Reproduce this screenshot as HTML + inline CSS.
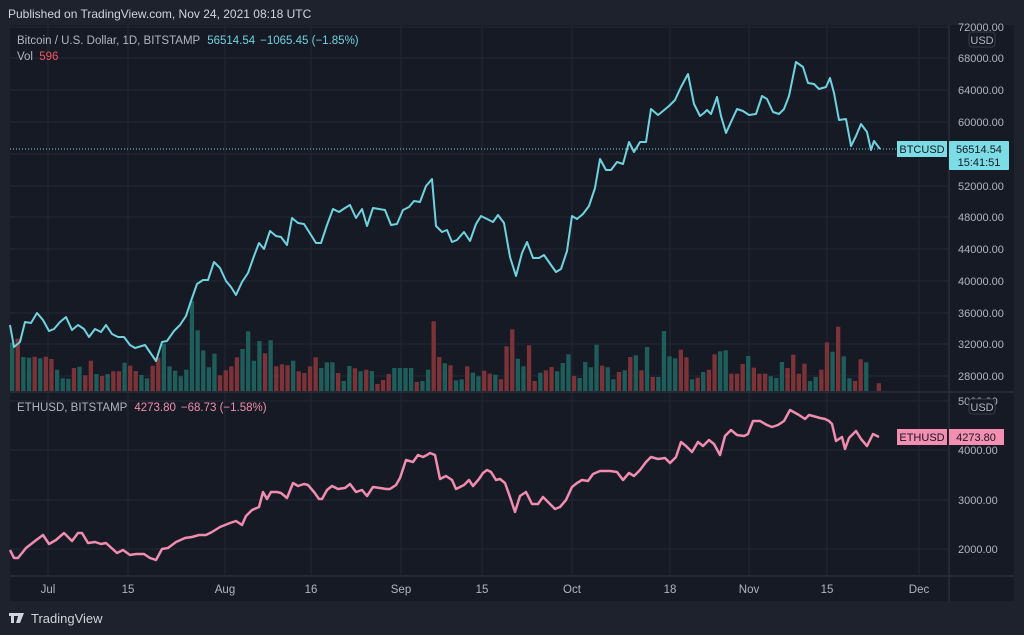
<!DOCTYPE html>
<html><head><meta charset="utf-8"><style>
html,body{margin:0;padding:0;background:#1e222d;}
svg{display:block;font-family:"Liberation Sans",sans-serif;}
.g{fill:#1f5d5b}.r{fill:#7c3338}
</style></head><body>
<svg width="1024" height="635" viewBox="0 0 1024 635" xmlns="http://www.w3.org/2000/svg">
<rect width="1024" height="635" fill="#1e222d"/>
<rect x="10" y="25" width="1004" height="576" fill="#161a25"/>
<g stroke="#242835" stroke-width="1">
<line x1="10" x2="949" y1="27" y2="27"/><line x1="10" x2="949" y1="58" y2="58"/><line x1="10" x2="949" y1="90" y2="90"/><line x1="10" x2="949" y1="122" y2="122"/><line x1="10" x2="949" y1="154" y2="154"/><line x1="10" x2="949" y1="186" y2="186"/><line x1="10" x2="949" y1="217" y2="217"/><line x1="10" x2="949" y1="249" y2="249"/><line x1="10" x2="949" y1="281" y2="281"/><line x1="10" x2="949" y1="313" y2="313"/><line x1="10" x2="949" y1="344" y2="344"/><line x1="10" x2="949" y1="376" y2="376"/>
<line x1="10" x2="949" y1="401" y2="401"/><line x1="10" x2="949" y1="450" y2="450"/><line x1="10" x2="949" y1="500" y2="500"/><line x1="10" x2="949" y1="549" y2="549"/>
<line x1="48" x2="48" y1="25" y2="575"/><line x1="128" x2="128" y1="25" y2="575"/><line x1="225" x2="225" y1="25" y2="575"/><line x1="311" x2="311" y1="25" y2="575"/><line x1="401" x2="401" y1="25" y2="575"/><line x1="482" x2="482" y1="25" y2="575"/><line x1="572" x2="572" y1="25" y2="575"/><line x1="670" x2="670" y1="25" y2="575"/><line x1="749" x2="749" y1="25" y2="575"/><line x1="827" x2="827" y1="25" y2="575"/><line x1="919" x2="919" y1="25" y2="575"/>
</g>
<g stroke="#2a2e39" stroke-width="1.5">
<line x1="10" x2="1014" y1="392" y2="392"/>
<line x1="10" x2="1014" y1="576" y2="576"/>
<line x1="949" x2="949" y1="25" y2="601"/>
</g>
<g>
<rect class="g" x="10" y="342.7" width="4.3" height="48.3"/>
<rect class="r" x="15.6" y="338.7" width="4.3" height="52.3"/>
<rect class="g" x="21.2" y="357" width="4.3" height="34"/>
<rect class="g" x="26.9" y="357.7" width="4.3" height="33.3"/>
<rect class="r" x="32.5" y="356.7" width="4.3" height="34.3"/>
<rect class="g" x="38.1" y="358.3" width="4.3" height="32.7"/>
<rect class="r" x="43.7" y="356.7" width="4.3" height="34.3"/>
<rect class="r" x="49.3" y="359" width="4.3" height="32"/>
<rect class="g" x="55.0" y="369.7" width="4.3" height="21.3"/>
<rect class="g" x="60.6" y="378.3" width="4.3" height="12.7"/>
<rect class="g" x="66.2" y="378.7" width="4.3" height="12.3"/>
<rect class="r" x="71.8" y="368" width="4.3" height="23"/>
<rect class="g" x="77.4" y="366.7" width="4.3" height="24.3"/>
<rect class="r" x="83.1" y="375.3" width="4.3" height="15.7"/>
<rect class="r" x="88.7" y="360.7" width="4.3" height="30.3"/>
<rect class="g" x="94.3" y="374" width="4.3" height="17"/>
<rect class="r" x="99.9" y="376" width="4.3" height="15"/>
<rect class="g" x="105.5" y="374" width="4.3" height="17"/>
<rect class="r" x="111.2" y="371.3" width="4.3" height="19.7"/>
<rect class="r" x="116.8" y="371.3" width="4.3" height="19.7"/>
<rect class="g" x="122.4" y="362.7" width="4.3" height="28.3"/>
<rect class="r" x="128.0" y="365.7" width="4.3" height="25.3"/>
<rect class="r" x="133.6" y="371" width="4.3" height="20"/>
<rect class="g" x="139.3" y="375" width="4.3" height="16"/>
<rect class="g" x="144.9" y="378.3" width="4.3" height="12.7"/>
<rect class="r" x="150.5" y="365.7" width="4.3" height="25.3"/>
<rect class="r" x="156.1" y="357.7" width="4.3" height="33.3"/>
<rect class="g" x="161.7" y="343.7" width="4.3" height="47.3"/>
<rect class="g" x="167.4" y="366.3" width="4.3" height="24.7"/>
<rect class="g" x="173.0" y="370.7" width="4.3" height="20.3"/>
<rect class="g" x="178.6" y="376.3" width="4.3" height="14.7"/>
<rect class="g" x="184.2" y="369.7" width="4.3" height="21.3"/>
<rect class="g" x="189.8" y="301" width="4.3" height="90"/>
<rect class="g" x="195.5" y="330.3" width="4.3" height="60.7"/>
<rect class="g" x="201.1" y="350.3" width="4.3" height="40.7"/>
<rect class="g" x="206.7" y="367.3" width="4.3" height="23.7"/>
<rect class="g" x="212.3" y="353.7" width="4.3" height="37.3"/>
<rect class="r" x="217.9" y="375.3" width="4.3" height="15.7"/>
<rect class="r" x="223.6" y="370.3" width="4.3" height="20.7"/>
<rect class="r" x="229.2" y="366.3" width="4.3" height="24.7"/>
<rect class="r" x="234.8" y="357.3" width="4.3" height="33.7"/>
<rect class="g" x="240.4" y="349" width="4.3" height="42"/>
<rect class="g" x="246.0" y="331.3" width="4.3" height="59.7"/>
<rect class="g" x="251.7" y="360.7" width="4.3" height="30.3"/>
<rect class="g" x="257.3" y="341" width="4.3" height="50"/>
<rect class="r" x="262.9" y="353.3" width="4.3" height="37.7"/>
<rect class="g" x="268.5" y="340.3" width="4.3" height="50.7"/>
<rect class="r" x="274.1" y="366.3" width="4.3" height="24.7"/>
<rect class="r" x="279.8" y="364.3" width="4.3" height="26.7"/>
<rect class="r" x="285.4" y="365.3" width="4.3" height="25.7"/>
<rect class="g" x="291.0" y="360.7" width="4.3" height="30.3"/>
<rect class="r" x="296.6" y="371.3" width="4.3" height="19.7"/>
<rect class="r" x="302.2" y="373" width="4.3" height="18"/>
<rect class="r" x="307.9" y="366.3" width="4.3" height="24.7"/>
<rect class="r" x="313.5" y="357.3" width="4.3" height="33.7"/>
<rect class="g" x="319.1" y="368" width="4.3" height="23"/>
<rect class="g" x="324.7" y="362.3" width="4.3" height="28.7"/>
<rect class="g" x="330.3" y="362.3" width="4.3" height="28.7"/>
<rect class="r" x="336.0" y="373" width="4.3" height="18"/>
<rect class="g" x="341.6" y="381" width="4.3" height="10"/>
<rect class="g" x="347.2" y="366" width="4.3" height="25"/>
<rect class="r" x="352.8" y="368.3" width="4.3" height="22.7"/>
<rect class="g" x="358.4" y="371.3" width="4.3" height="19.7"/>
<rect class="r" x="364.1" y="369.7" width="4.3" height="21.3"/>
<rect class="g" x="369.7" y="371" width="4.3" height="20"/>
<rect class="r" x="375.3" y="384" width="4.3" height="7"/>
<rect class="r" x="380.9" y="380" width="4.3" height="11"/>
<rect class="r" x="386.5" y="374" width="4.3" height="17"/>
<rect class="g" x="392.2" y="368" width="4.3" height="23"/>
<rect class="g" x="397.8" y="368" width="4.3" height="23"/>
<rect class="g" x="403.4" y="368" width="4.3" height="23"/>
<rect class="g" x="409.0" y="368" width="4.3" height="23"/>
<rect class="r" x="414.6" y="382" width="4.3" height="9"/>
<rect class="g" x="420.3" y="381" width="4.3" height="10"/>
<rect class="g" x="425.9" y="369.7" width="4.3" height="21.3"/>
<rect class="r" x="431.5" y="321.3" width="4.3" height="69.7"/>
<rect class="r" x="437.1" y="357" width="4.3" height="34"/>
<rect class="g" x="442.7" y="363.3" width="4.3" height="27.7"/>
<rect class="r" x="448.3" y="365.3" width="4.3" height="25.7"/>
<rect class="g" x="453.9" y="380.3" width="4.3" height="10.7"/>
<rect class="g" x="459.5" y="379.3" width="4.3" height="11.7"/>
<rect class="r" x="465.1" y="366.3" width="4.3" height="24.7"/>
<rect class="g" x="470.7" y="372.7" width="4.3" height="18.3"/>
<rect class="g" x="476.3" y="376.3" width="4.3" height="14.7"/>
<rect class="r" x="482.0" y="370.7" width="4.3" height="20.3"/>
<rect class="r" x="487.6" y="373.7" width="4.3" height="17.3"/>
<rect class="g" x="493.2" y="374.7" width="4.3" height="16.3"/>
<rect class="r" x="498.8" y="379.3" width="4.3" height="11.7"/>
<rect class="r" x="504.4" y="346.3" width="4.3" height="44.7"/>
<rect class="r" x="510.1" y="329.3" width="4.3" height="61.7"/>
<rect class="g" x="515.7" y="358.7" width="4.3" height="32.3"/>
<rect class="g" x="521.3" y="366.3" width="4.3" height="24.7"/>
<rect class="r" x="526.9" y="345.3" width="4.3" height="45.7"/>
<rect class="r" x="532.5" y="381" width="4.3" height="10"/>
<rect class="g" x="538.2" y="372.7" width="4.3" height="18.3"/>
<rect class="r" x="543.8" y="370.3" width="4.3" height="20.7"/>
<rect class="r" x="549.4" y="367" width="4.3" height="24"/>
<rect class="g" x="555.0" y="371.3" width="4.3" height="19.7"/>
<rect class="g" x="560.6" y="363" width="4.3" height="28"/>
<rect class="g" x="566.3" y="354.3" width="4.3" height="36.7"/>
<rect class="r" x="571.9" y="376" width="4.3" height="15"/>
<rect class="g" x="577.5" y="378" width="4.3" height="13"/>
<rect class="g" x="583.1" y="362" width="4.3" height="29"/>
<rect class="g" x="588.7" y="367.3" width="4.3" height="23.7"/>
<rect class="g" x="594.4" y="344.7" width="4.3" height="46.3"/>
<rect class="r" x="600.0" y="365.7" width="4.3" height="25.3"/>
<rect class="g" x="605.6" y="367.3" width="4.3" height="23.7"/>
<rect class="g" x="611.2" y="379.3" width="4.3" height="11.7"/>
<rect class="r" x="616.8" y="372" width="4.3" height="19"/>
<rect class="g" x="622.5" y="370.3" width="4.3" height="20.7"/>
<rect class="r" x="628.1" y="357" width="4.3" height="34"/>
<rect class="g" x="633.7" y="355.3" width="4.3" height="35.7"/>
<rect class="r" x="639.3" y="370.3" width="4.3" height="20.7"/>
<rect class="g" x="644.9" y="347" width="4.3" height="44"/>
<rect class="r" x="650.6" y="377" width="4.3" height="14"/>
<rect class="g" x="656.2" y="377" width="4.3" height="14"/>
<rect class="g" x="661.8" y="331" width="4.3" height="60"/>
<rect class="g" x="667.4" y="356.3" width="4.3" height="34.7"/>
<rect class="g" x="673.0" y="358.3" width="4.3" height="32.7"/>
<rect class="r" x="678.7" y="349.7" width="4.3" height="41.3"/>
<rect class="r" x="684.3" y="357.3" width="4.3" height="33.7"/>
<rect class="g" x="689.9" y="379.3" width="4.3" height="11.7"/>
<rect class="r" x="695.5" y="377.7" width="4.3" height="13.3"/>
<rect class="g" x="701.1" y="372" width="4.3" height="19"/>
<rect class="r" x="706.8" y="369.7" width="4.3" height="21.3"/>
<rect class="r" x="712.4" y="354.3" width="4.3" height="36.7"/>
<rect class="g" x="718.0" y="351.3" width="4.3" height="39.7"/>
<rect class="g" x="723.6" y="350.3" width="4.3" height="40.7"/>
<rect class="r" x="729.2" y="373.7" width="4.3" height="17.3"/>
<rect class="r" x="734.9" y="373.7" width="4.3" height="17.3"/>
<rect class="r" x="740.5" y="364" width="4.3" height="27"/>
<rect class="g" x="746.1" y="356" width="4.3" height="35"/>
<rect class="r" x="751.7" y="367.7" width="4.3" height="23.3"/>
<rect class="r" x="757.3" y="373.7" width="4.3" height="17.3"/>
<rect class="r" x="763.0" y="373.7" width="4.3" height="17.3"/>
<rect class="g" x="768.6" y="376.3" width="4.3" height="14.7"/>
<rect class="g" x="774.2" y="378" width="4.3" height="13"/>
<rect class="g" x="779.8" y="362" width="4.3" height="29"/>
<rect class="r" x="785.4" y="368" width="4.3" height="23"/>
<rect class="r" x="791.1" y="354.7" width="4.3" height="36.3"/>
<rect class="r" x="796.7" y="373.7" width="4.3" height="17.3"/>
<rect class="r" x="802.3" y="363.7" width="4.3" height="27.3"/>
<rect class="g" x="807.9" y="381" width="4.3" height="10"/>
<rect class="g" x="813.5" y="377" width="4.3" height="14"/>
<rect class="r" x="819.2" y="369.7" width="4.3" height="21.3"/>
<rect class="r" x="824.8" y="342.3" width="4.3" height="48.7"/>
<rect class="g" x="830.4" y="351.7" width="4.3" height="39.3"/>
<rect class="r" x="836.0" y="326.7" width="4.3" height="64.3"/>
<rect class="g" x="841.6" y="356.3" width="4.3" height="34.7"/>
<rect class="g" x="847.3" y="378.3" width="4.3" height="12.7"/>
<rect class="r" x="852.9" y="381" width="4.3" height="10"/>
<rect class="r" x="858.5" y="359.3" width="4.3" height="31.7"/>
<rect class="g" x="864.1" y="362.3" width="4.3" height="28.7"/>
<rect class="r" x="876.7" y="383.3" width="4.3" height="7.7"/>
</g>
<polyline fill="none" stroke="#6fd3df" stroke-width="2" stroke-linejoin="round" points="10,325 14,347 20,342 25,322 31,323 37,313 43,320 49,331 54,329 60,322 66,317 72,330 78,325 84,329 89,337 95,329 101,332 106,325 112,334 118,337 124,337 130,345 135,348 145,345 156,361 162,342 167,341 174,331 180,325 186,316 191,301 197,284 203,280 208,280 214,262 220,268 226,281 231,287 236,295 242,282 248,273 254,256 259,243 264,249 270,231 276,236 281,237 287,245 292,218 298,223 304,224 311,235 316,243 321,243 327,225 333,209 339,212 345,208 350,205 356,218 362,209 367,226 373,208 379,209 385,210 391,225 397,224 403,210 409,207 414,201 420,202 426,186 432,179 436,226 442,232 447,230 452,242 457,240 464,232 470,241 476,224 481,216 493,222 498,215 504,223 510,257 516,276 522,253 527,242 533,258 539,258 544,255 551,265 556,272 561,269 567,251 572,216 577,219 583,214 589,206 595,188 600,159 606,170 611,170 617,162 623,164 629,142 634,152 640,142 646,142 651,109 658,115 663,111 669,106 675,100 681,87 688,74 694,104 700,116 704,113 707,110 711,114 717,97 721,116 726,133 731,122 737,109 743,111 749,115 756,114 762,96 767,99 773,112 779,114 784,109 789,96 796,62 803,67 808,83 814,84 819,89 826,87 830,78 834,93 839,120 846,119 851,146 856,136 861,124 867,132 871,150 874,141 880,149"/>
<line x1="10" x2="897" y1="149" y2="149" stroke="#6fd3df" stroke-width="1" stroke-dasharray="1,2"/>
<polyline fill="none" stroke="#f08cad" stroke-width="2.5" stroke-linejoin="round" points="10,550 14,558 18,558 26,548 35,541 43,535 49,544 56,540 64,533 72,541 78,533 82,533 88,543 95,542 101,544 106,543 117,553 123,550 130,555 136,554 144,554 150,558 156,560 162,549 168,548 176,542 185,538 192,537 199,535 206,535 212,532 220,527 230,523 236,521 242,525 246,516 252,510 259,507 263,492 267,499 271,492 277,492 281,493 287,498 293,483 298,486 304,484 308,485 314,492 319,499 322,499 327,490 332,486 338,489 345,488 350,484 356,492 362,490 367,496 373,487 380,488 386,489 390,489 396,485 400,478 406,460 413,462 418,455 423,457 427,455 430,453 435,455 440,479 446,476 452,480 456,489 460,487 464,485 469,480 473,486 479,479 483,473 487,470 491,472 496,480 500,479 505,483 510,497 515,512 520,496 526,492 532,504 538,504 543,497 549,503 555,509 560,507 566,500 572,487 577,483 582,480 588,481 593,474 600,471 610,471 617,472 623,480 629,473 634,476 640,470 646,462 651,457 658,459 665,458 670,463 676,457 681,442 686,446 692,452 698,442 703,446 709,440 714,444 720,455 725,436 731,430 737,435 744,436 748,434 753,421 760,421 767,425 772,427 778,425 784,421 790,410 799,415 805,419 809,415 813,416 820,418 825,419 829,421 832,424 836,441 842,437 845,449 849,438 856,431 861,439 867,446 873,434 879,437"/>
<g fill="#b2b5be" font-size="11">
<text x="958" y="31">72000.00</text><text x="958" y="62">68000.00</text><text x="958" y="94">64000.00</text><text x="958" y="126">60000.00</text><text x="958" y="190">52000.00</text><text x="958" y="221">48000.00</text><text x="958" y="253">44000.00</text><text x="958" y="285">40000.00</text><text x="958" y="317">36000.00</text><text x="958" y="348">32000.00</text><text x="958" y="380">28000.00</text>
<text x="958" y="405">5000.00</text><text x="958" y="454">4000.00</text><text x="958" y="504">3000.00</text><text x="958" y="553">2000.00</text>
<g text-anchor="middle" font-size="11.5"><text x="48" y="593">Jul</text><text x="128" y="593">15</text><text x="225" y="593">Aug</text><text x="311" y="593">16</text><text x="401" y="593">Sep</text><text x="482" y="593">15</text><text x="572" y="593">Oct</text><text x="670" y="593">18</text><text x="749" y="593">Nov</text><text x="827" y="593">15</text><text x="919" y="593">Dec</text></g>
</g>
<rect x="969" y="32" width="26" height="15" rx="3" fill="#161a25" stroke="#363a45"/>
<text x="982" y="44" fill="#b2b5be" font-size="11" text-anchor="middle">USD</text>
<rect x="969" y="399" width="26" height="15" rx="3" fill="#161a25" stroke="#363a45"/>
<text x="982" y="411" fill="#b2b5be" font-size="11" text-anchor="middle">USD</text>
<rect x="897" y="141" width="50" height="16" fill="#7ddde7"/>
<text x="922" y="153" fill="#131722" font-size="11" text-anchor="middle">BTCUSD</text>
<rect x="949" y="141" width="60" height="29" rx="1" fill="#7ddde7"/>
<text x="979" y="153" fill="#131722" font-size="11" text-anchor="middle">56514.54</text>
<text x="979" y="166" fill="#131722" font-size="11" text-anchor="middle">15:41:51</text>
<rect x="897" y="429" width="50" height="16" fill="#f48fb1"/>
<text x="922" y="441" fill="#131722" font-size="11" text-anchor="middle">ETHUSD</text>
<rect x="949" y="429" width="55" height="16" fill="#f48fb1"/>
<text x="976" y="441" fill="#131722" font-size="11" text-anchor="middle">4273.80</text>
<text x="8" y="18" fill="#d1d4dc" font-size="12">Published on TradingView.com, Nov 24, 2021 08:18 UTC</text>
<text x="17" y="44" fill="#b2b5be" font-size="11.5">Bitcoin / U.S. Dollar, 1D, BITSTAMP <tspan fill="#6fd3df" dx="4">56514.54</tspan><tspan fill="#6fd3df" dx="5">−1065.45 (−1.85%)</tspan></text>
<text x="17" y="60" fill="#b2b5be" font-size="11.5">Vol <tspan fill="#f7525f" dx="3">596</tspan></text>
<text x="17" y="411" fill="#b2b5be" font-size="11.5">ETHUSD, BITSTAMP <tspan fill="#f08cad" dx="4">4273.80</tspan><tspan fill="#f08cad" dx="5">−68.73 (−1.58%)</tspan></text>
<g fill="#d1d4dc"><rect x="9" y="613" width="7" height="3"/><rect x="11" y="613" width="3" height="10"/><rect x="16" y="613" width="3" height="3"/><polygon points="19,613 24,613 20,623 16,623"/></g>
<text x="31" y="623" fill="#d1d4dc" font-size="13">TradingView</text>
</svg>
</body></html>
